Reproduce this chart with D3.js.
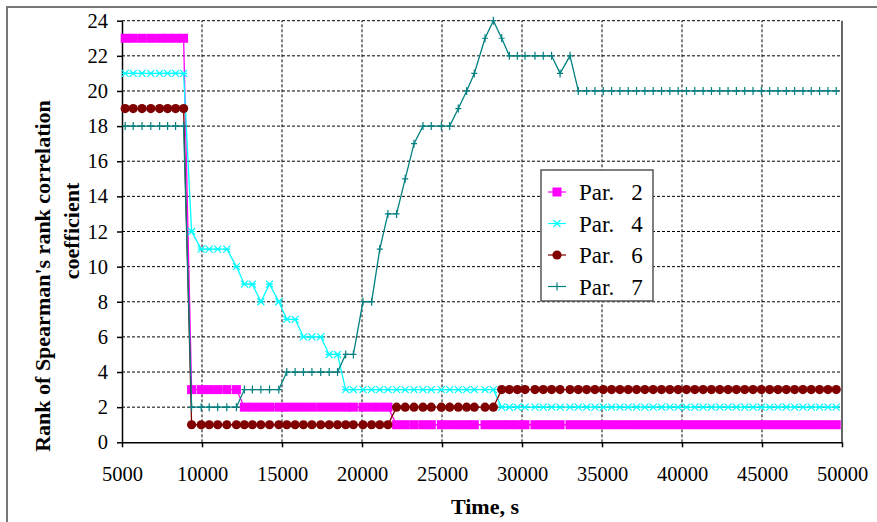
<!DOCTYPE html>
<html>
<head>
<meta charset="utf-8">
<title>Rank of Spearman's rank correlation coefficient</title>
<script src="https://d3js.org/d3.v7.min.js"></script>
<style>
  body { margin: 0; background: #fff; }
  svg text { font-family: "Liberation Serif", "Times New Roman", serif; fill: #000; }
  .grid line { stroke: #000; stroke-width: 1; stroke-dasharray: 3,2; }
  .eixo path, .eixo line { stroke: #000; stroke-width: 1.5; }
</style>
</head>
<body>
<div id="vis"></div>
<script>

// tempos (s) dos pontos
var tempos = [5200, 5700, 6250, 6800, 7350, 7850, 8350, 8850,
  9350, 9950, 10450, 10980, 11550, 12150,
  12650, 13150, 13680, 14220, 14800,
  15300, 15820, 16340, 16870, 17420, 17950, 18470,
  18980, 19460, 20060, 20600, 21110, 21620, 22160, 22700, 23250,
  23810, 24330, 24960, 25480, 26020, 26540, 27020, 27690, 28210, 28730,
  29210, 29710, 30190, 30810, 31330, 31850, 32380, 33000, 33520,
  34040, 34560, 35080, 35600, 36120, 36640, 37160, 37680, 38200, 38720,
  39240, 39760, 40280, 40800, 41320, 41840, 42360, 42880, 43400, 43920,
  44440, 44960, 45480, 46000, 46520, 47040, 47560, 48080, 48600, 49120, 49640];

var par2 = [23, 23, 23, 23, 23, 23, 23, 23,
  3, 3, 3, 3, 3, 3,
  2, 2, 2, 2, 2,
  2, 2, 2, 2, 2, 2, 2,
  2, 2, 2, 2, 2, 2, 1, 1, 1,
  1, 1, 1, 1, 1, 1, 1, 1, 1, 1,
  1, 1, 1, 1, 1, 1, 1, 1, 1,
  1, 1, 1, 1, 1, 1, 1, 1, 1, 1,
  1, 1, 1, 1, 1, 1, 1, 1, 1, 1,
  1, 1, 1, 1, 1, 1, 1, 1, 1, 1, 1];

var par4 = [21, 21, 21, 21, 21, 21, 21, 21,
  12, 11, 11, 11, 11, 10,
  9, 9, 8, 9, 8,
  7, 7, 6, 6, 6, 5, 5,
  3, 3, 3, 3, 3, 3, 3, 3, 3,
  3, 3, 3, 3, 3, 3, 3, 3, 3, 2,
  2, 2, 2, 2, 2, 2, 2, 2, 2,
  2, 2, 2, 2, 2, 2, 2, 2, 2, 2,
  2, 2, 2, 2, 2, 2, 2, 2, 2, 2,
  2, 2, 2, 2, 2, 2, 2, 2, 2, 2, 2];

var par6 = [19, 19, 19, 19, 19, 19, 19, 19,
  1, 1, 1, 1, 1, 1,
  1, 1, 1, 1, 1,
  1, 1, 1, 1, 1, 1, 1,
  1, 1, 1, 1, 1, 1, 2, 2, 2,
  2, 2, 2, 2, 2, 2, 2, 2, 2, 3,
  3, 3, 3, 3, 3, 3, 3, 3, 3,
  3, 3, 3, 3, 3, 3, 3, 3, 3, 3,
  3, 3, 3, 3, 3, 3, 3, 3, 3, 3,
  3, 3, 3, 3, 3, 3, 3, 3, 3, 3, 3];

var par7 = [18, 18, 18, 18, 18, 18, 18, 18,
  2, 2, 2, 2, 2, 2,
  3, 3, 3, 3, 3,
  4, 4, 4, 4, 4, 4, 4,
  5, 5, 8, 8, 11, 13, 13, 15, 17,
  18, 18, 18, 18, 19, 20, 21, 23, 24, 23,
  22, 22, 22, 22, 22, 22, 21, 22, 20,
  20, 20, 20, 20, 20, 20, 20, 20, 20, 20,
  20, 20, 20, 20, 20, 20, 20, 20, 20, 20,
  20, 20, 20, 20, 20, 20, 20, 20, 20, 20, 20];

var nomes = ["Par.", "Par.", "Par.", "Par."];
var numeros = ["2", "4", "6", "7"];
var xTicks = [5000, 10000, 15000, 20000, 25000, 30000, 35000, 40000, 45000, 50000];
var yTicks = [0, 2, 4, 6, 8, 10, 12, 14, 16, 18, 20, 22, 24];

var series = [
  { nome: nomes[0], num: numeros[0], valores: par2, cor: "#ff00ff", marca: "quadrado" },
  { nome: nomes[1], num: numeros[1], valores: par4, cor: "#00ffff", marca: "xis" },
  { nome: nomes[2], num: numeros[2], valores: par6, cor: "#800000", marca: "circulo" },
  { nome: nomes[3], num: numeros[3], valores: par7, cor: "#008080", marca: "mais" }
];

var largura = 877, altura = 522;
var svg = d3.select("#vis").append("svg")
  .attr("width", largura)
  .attr("height", altura);

// moldura externa
svg.append("rect")
  .attr("x", 7).attr("y", 7)
  .attr("width", 900).attr("height", 560)
  .attr("fill", "none")
  .attr("stroke", "#777")
  .attr("stroke-width", 2);

var x = d3.scaleLinear().domain([5000, 50000]).range([122, 842]);
var y = d3.scaleLinear().domain([0, 24]).range([442.3, 20.7]);

// grade
var grade = svg.append("g").attr("class", "grid");
grade.selectAll(".gx")
  .data(xTicks.slice(1, -1))
  .enter().append("line")
  .attr("x1", d => x(d)).attr("x2", d => x(d))
  .attr("y1", y(0)).attr("y2", y(24));
grade.selectAll(".gy")
  .data(yTicks.slice(1))
  .enter().append("line")
  .attr("x1", x(5000)).attr("x2", x(50000))
  .attr("y1", d => y(d)).attr("y2", d => y(d));

// borda direita
svg.append("line")
  .attr("x1", x(50000)).attr("x2", x(50000))
  .attr("y1", y(0)).attr("y2", y(24))
  .attr("stroke", "#000").attr("stroke-width", 1.2);

// eixos
svg.append("g")
  .attr("class", "eixo")
  .attr("transform", "translate(0," + y(0) + ")")
  .call(d3.axisBottom(x).tickValues(xTicks).tickSize(5).tickSizeOuter(0)
    .tickPadding(19).tickFormat(d3.format("d")));

svg.append("g")
  .attr("class", "eixo")
  .attr("transform", "translate(" + x(5000) + ",0)")
  .call(d3.axisLeft(y).tickValues(yTicks).tickSize(5).tickSizeOuter(0)
    .tickPadding(9).tickFormat(d3.format("d")));

svg.selectAll(".eixo")
  .attr("font-family", null)
  .attr("font-size", null);
svg.selectAll(".eixo text")
  .style("font-size", "20.5px")
  .style("font-family", "'Liberation Serif', 'Times New Roman', serif");

// marcadores
function desenhaMarca(g, tipo, cor) {
  if (tipo == "quadrado") {
    g.append("rect").attr("x", -4.5).attr("y", -4.5).attr("width", 9).attr("height", 9)
      .attr("fill", cor);
  } else if (tipo == "xis") {
    g.append("path").attr("d", "M-3.5,-3.5L3.5,3.5M-3.5,3.5L3.5,-3.5M-3.5,0H3.5")
      .attr("stroke", cor).attr("stroke-width", 1.2).attr("fill", "none");
  } else if (tipo == "circulo") {
    g.append("circle").attr("r", 4.6).attr("fill", cor);
  } else {
    g.append("path").attr("d", "M0,-4V4M-3,0H3")
      .attr("stroke", cor).attr("stroke-width", 1.2).attr("fill", "none");
  }
}

var linha = d3.line()
  .x(d => x(d[0]))
  .y(d => y(d[1]));

series.forEach(function (s) {
  var pontos = tempos.map((t, i) => [t, s.valores[i]]);
  svg.append("path")
    .datum(pontos)
    .attr("d", linha)
    .attr("fill", "none")
    .attr("stroke", s.cor)
    .attr("stroke-width", 1.3);
  svg.append("g").selectAll("g")
    .data(pontos)
    .enter().append("g")
    .attr("transform", d => "translate(" + x(d[0]) + "," + y(d[1]) + ")")
    .each(function () { desenhaMarca(d3.select(this), s.marca, s.cor); });
});

// titulos
svg.append("text")
  .attr("transform", "translate(42,276) rotate(-90)")
  .attr("text-anchor", "middle")
  .attr("dy", "0.35em")
  .attr("font-weight", "bold")
  .attr("font-size", 22)
  .text("Rank of Spearman's rank correlation");

svg.append("text")
  .attr("transform", "translate(71,231) rotate(-90)")
  .attr("text-anchor", "middle")
  .attr("dy", "0.35em")
  .attr("font-weight", "bold")
  .attr("font-size", 22)
  .text("coefficient");

svg.append("text")
  .attr("x", 485).attr("y", 514)
  .attr("text-anchor", "middle")
  .attr("font-weight", "bold")
  .attr("font-size", 22)
  .text("Time, s");

// legenda
var legenda = svg.append("g");
legenda.append("rect")
  .attr("x", 541).attr("y", 170)
  .attr("width", 112).attr("height", 131)
  .attr("fill", "#fff")
  .attr("stroke", "#555")
  .attr("stroke-width", 1.5);

series.forEach(function (s, i) {
  var ly = 192 + i * 31.5;
  legenda.append("line")
    .attr("x1", 548).attr("x2", 566)
    .attr("y1", ly).attr("y2", ly)
    .attr("stroke", s.cor).attr("stroke-width", 1.2);
  var m = legenda.append("g").attr("transform", "translate(557," + ly + ")");
  desenhaMarca(m, s.marca, s.cor);
  legenda.append("text")
    .attr("x", 579).attr("y", ly)
    .attr("dy", "0.35em")
    .attr("font-size", 23)
    .text(s.nome);
  legenda.append("text")
    .attr("x", 637).attr("y", ly)
    .attr("dy", "0.35em")
    .attr("text-anchor", "middle")
    .attr("font-size", 23)
    .text(s.num);
});

</script>
</body>
</html>
